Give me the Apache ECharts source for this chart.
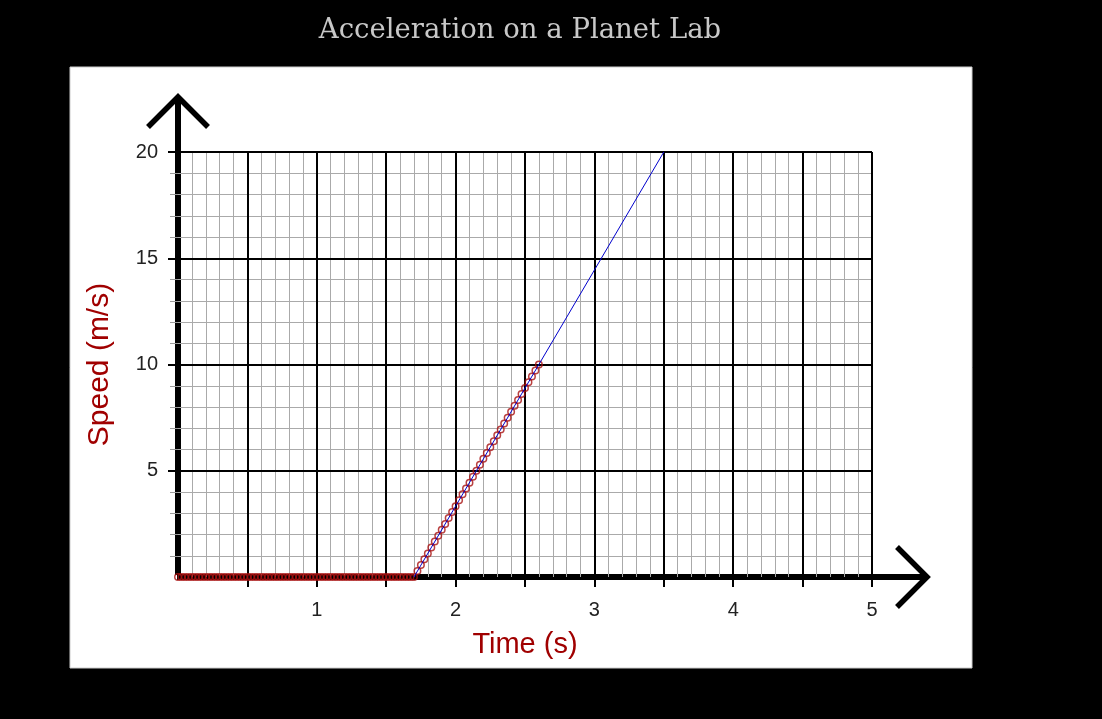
<!DOCTYPE html>
<html>
<head>
<meta charset="utf-8">
<title>Acceleration on a Planet Lab</title>
<script src="https://cdn.jsdelivr.net/npm/echarts@6/dist/echarts.min.js"></script>
<style>
  html, body { margin: 0; padding: 0; background: #000; }
  #main { width: 1102px; height: 719px; }
</style>
</head>
<body>
<div id="main"></div>
<script>
// measured time (s), sampled every 0.025 s
var times = [
  0, 0.025, 0.05, 0.075, 0.1, 0.125, 0.15, 0.175, 0.2, 0.225,
  0.25, 0.275, 0.3, 0.325, 0.35, 0.375, 0.4, 0.425, 0.45, 0.475,
  0.5, 0.525, 0.55, 0.575, 0.6, 0.625, 0.65, 0.675, 0.7, 0.725,
  0.75, 0.775, 0.8, 0.825, 0.85, 0.875, 0.9, 0.925, 0.95, 0.975,
  1, 1.025, 1.05, 1.075, 1.1, 1.125, 1.15, 1.175, 1.2, 1.225,
  1.25, 1.275, 1.3, 1.325, 1.35, 1.375, 1.4, 1.425, 1.45, 1.475,
  1.5, 1.525, 1.55, 1.575, 1.6, 1.625, 1.65, 1.675, 1.7,
  1.725, 1.75, 1.775, 1.8, 1.825, 1.85, 1.875, 1.9, 1.925, 1.95,
  1.975, 2, 2.025, 2.05, 2.075, 2.1, 2.125, 2.15, 2.175, 2.2,
  2.225, 2.25, 2.275, 2.3, 2.325, 2.35, 2.375, 2.4, 2.425, 2.45,
  2.475, 2.5, 2.525, 2.55, 2.575, 2.6
];
// measured speed (m/s)
var speeds = [
  0, 0, 0, 0, 0, 0, 0, 0, 0, 0,
  0, 0, 0, 0, 0, 0, 0, 0, 0, 0,
  0, 0, 0, 0, 0, 0, 0, 0, 0, 0,
  0, 0, 0, 0, 0, 0, 0, 0, 0, 0,
  0, 0, 0, 0, 0, 0, 0, 0, 0, 0,
  0, 0, 0, 0, 0, 0, 0, 0, 0, 0,
  0, 0, 0, 0, 0, 0, 0, 0, 0,
  0.28, 0.56, 0.83, 1.11, 1.39, 1.67, 1.94, 2.22, 2.5, 2.78,
  3.06, 3.33, 3.61, 3.89, 4.17, 4.44, 4.72, 5, 5.28, 5.56,
  5.83, 6.11, 6.39, 6.67, 6.94, 7.22, 7.5, 7.78, 8.06, 8.33,
  8.61, 8.89, 9.17, 9.44, 9.72, 10
];
// best fit line end points
var fitTimes = [1.7, 3.5];
var fitSpeeds = [0, 20];
// tick marks and the labels that are printed
var xTickValues = [0.5, 1, 1.5, 2, 2.5, 3, 3.5, 4, 4.5, 5];
var yTickValues = [5, 10, 15, 20];
var xTickLabels = ['1', '2', '3', '4', '5'];
var yTickLabels = ['5', '10', '15', '20'];

var gridLeft = 178, gridTop = 152, gridWidth = 694, gridHeight = 425;
var originX = gridLeft, originY = gridTop + gridHeight;

var measured = times.map(function (t, i) { return [t, speeds[i]]; });
var fit = fitTimes.map(function (t, i) { return [t, fitSpeeds[i]]; });

var chart = echarts.init(document.getElementById('main'));

chart.setOption({
  backgroundColor: '#000',
  animation: false,
  title: {
    text: 'Acceleration on a Planet Lab',
    left: 515,
    textAlign: 'center',
    top: 12,
    textStyle: {
      fontFamily: 'DejaVu Serif',
      fontWeight: 'normal',
      fontSize: 27.5,
      color: '#c8c8c8'
    }
  },
  grid: { left: gridLeft, top: gridTop, width: gridWidth, height: gridHeight },
  xAxis: [
    {
      type: 'value', min: 0, max: 5, interval: 0.5, z: 2,
      axisLine: { show: false },
      axisTick: {
        show: true, length: 10, lineStyle: { color: '#000', width: 2 },
        customValues: xTickValues
      },
      axisLabel: {
        margin: 23, fontSize: 20, color: '#222', fontFamily: 'Liberation Sans',
        formatter: function (v) { var s = String(v); return xTickLabels.indexOf(s) >= 0 ? s : ''; }
      },
      splitLine: { show: true, lineStyle: { color: '#000', width: 2 } },
      name: 'Time (s)', nameLocation: 'middle', nameGap: 53,
      nameTextStyle: { fontSize: 29, color: '#a00000', fontFamily: 'Liberation Sans' }
    },
    {
      type: 'value', min: 0, max: 5, interval: 0.5, z: 1, position: 'top',
      axisLine: { show: false }, axisTick: { show: false }, axisLabel: { show: false },
      splitLine: { show: false },
      minorTick: { show: false, splitNumber: 5 },
      minorSplitLine: { show: true, lineStyle: { color: '#aaa', width: 1 } }
    }
  ],
  yAxis: [
    {
      type: 'value', min: 0, max: 20, interval: 5, z: 2,
      axisLine: { show: false },
      axisTick: {
        show: true, length: 10, lineStyle: { color: '#000', width: 2 },
        customValues: yTickValues
      },
      minorTick: { show: true, splitNumber: 5, length: 8, lineStyle: { color: '#999', width: 1 } },
      axisLabel: {
        margin: 20, fontSize: 20, color: '#222', fontFamily: 'Liberation Sans',
        formatter: function (v) { var s = String(v); return yTickLabels.indexOf(s) >= 0 ? s : ''; }
      },
      splitLine: { show: true, lineStyle: { color: '#000', width: 2 } },
      name: 'Speed (m/s)', nameLocation: 'middle', nameGap: 63,
      nameTextStyle: { fontSize: 30, color: '#a00000', fontFamily: 'Liberation Sans' }
    },
    {
      type: 'value', min: 0, max: 20, interval: 5, z: 1, position: 'right',
      axisLine: { show: false }, axisTick: { show: false }, axisLabel: { show: false },
      splitLine: { show: false },
      minorTick: { show: false, splitNumber: 5 },
      minorSplitLine: { show: true, lineStyle: { color: '#aaa', width: 1 } }
    }
  ],
  graphic: [
    {
      type: 'rect', z: -10, silent: true,
      shape: { x: 70, y: 67, width: 902, height: 601 },
      style: { fill: '#fff', stroke: '#ccc', lineWidth: 1 }
    },
    {
      type: 'polyline', z: 1, silent: true,
      shape: { points: [[originX, originY - 2], [originX, gridTop - 55]] },
      style: { stroke: '#000', lineWidth: 6, fill: null }
    },
    {
      type: 'polyline', z: 1, silent: true,
      shape: { points: [[originX - 30, gridTop - 25], [originX, gridTop - 55], [originX + 30, gridTop - 25]] },
      style: { stroke: '#000', lineWidth: 5.5, fill: null, lineJoin: 'miter' }
    },
    {
      type: 'polyline', z: 1, silent: true,
      shape: { points: [[originX - 1, originY], [gridLeft + gridWidth + 55, originY]] },
      style: { stroke: '#000', lineWidth: 6, fill: null }
    },
    {
      type: 'polyline', z: 1, silent: true,
      shape: { points: [[gridLeft + gridWidth + 25, originY - 30], [gridLeft + gridWidth + 55, originY], [gridLeft + gridWidth + 25, originY + 30]] },
      style: { stroke: '#000', lineWidth: 5.5, fill: null, lineJoin: 'miter' }
    }
  ],
  series: [
    {
      type: 'scatter', z: 3,
      xAxisIndex: 0, yAxisIndex: 0,
      data: measured,
      symbol: 'circle', symbolSize: 6.5,
      itemStyle: { color: 'rgba(255,255,255,0)', borderColor: '#a81010', borderWidth: 1.5 }
    },
    {
      type: 'line', z: 4,
      xAxisIndex: 0, yAxisIndex: 0,
      data: fit,
      showSymbol: false,
      lineStyle: { color: '#0000cc', width: 1 }
    }
  ]
});
</script>
</body>
</html>
